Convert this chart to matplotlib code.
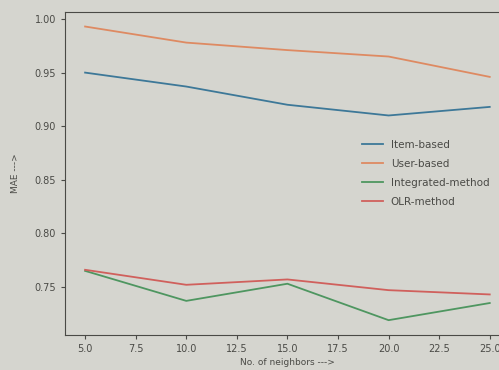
import matplotlib.pyplot as plt

neighbors = [5, 10, 15, 20, 25]
item_based = [0.950, 0.937, 0.920, 0.910, 0.918]
user_based = [0.993, 0.978, 0.971, 0.965, 0.946]
integrated = [0.765, 0.737, 0.753, 0.719, 0.735]
olr_method = [0.766, 0.752, 0.757, 0.747, 0.743]

bg = "#d5d5cf"
ink = "#4a4a46"

fig = plt.figure(figsize=(4.99, 3.70), dpi=100, facecolor=bg)
ax = fig.add_axes([0.130, 0.095, 0.892, 0.873], facecolor=bg)

ax.plot(neighbors, item_based, color="#3d7898", lw=1.3, label="Item-based")
ax.plot(neighbors, user_based, color="#de8a62", lw=1.3, label="User-based")
ax.plot(neighbors, integrated, color="#4e9660", lw=1.3, label="Integrated-method")
ax.plot(neighbors, olr_method, color="#d0605c", lw=1.3, label="OLR-method")

ax.set_xticks([5, 7.5, 10, 12.5, 15, 17.5, 20, 22.5, 25])
ax.set_yticks([0.75, 0.80, 0.85, 0.90, 0.95, 1.00])
ax.tick_params(labelsize=7, colors=ink, length=3)
for s in ax.spines.values():
    s.set_color(ink)

ax.set_xlabel("No. of neighbors --->", fontsize=6.5, color=ink, labelpad=3)
ax.set_ylabel("MAE --->", fontsize=6.5, color=ink, labelpad=10)

leg = ax.legend(loc="center right", bbox_to_anchor=(0.975, 0.5), frameon=False,
                fontsize=7.5, handlelength=2.0, labelspacing=0.85)
for t in leg.get_texts():
    t.set_color(ink)

plt.savefig("out.png", dpi=100, facecolor=bg)
plt.close(fig)
